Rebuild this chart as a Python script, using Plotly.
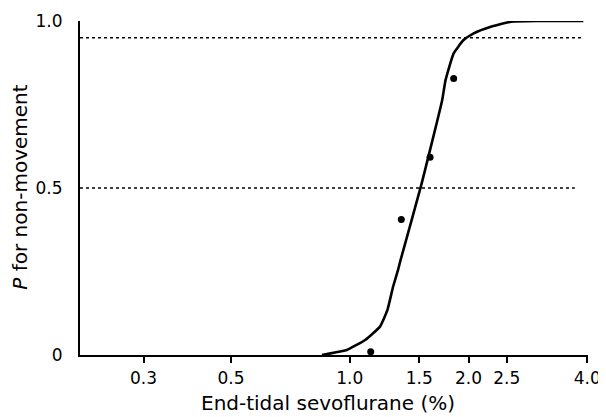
import plotly.graph_objects as go

# Fitted dose-response curve
curve_x = [0.85, 0.876, 0.983, 1.094, 1.193, 1.246, 1.288, 1.325, 1.345, 1.514,
           1.715, 1.749, 1.834, 1.943, 2.061, 2.279, 2.567, 3.0, 3.91]
curve_y = [0.0, 0.003, 0.015, 0.045, 0.085, 0.135, 0.205, 0.254, 0.284, 0.504,
           0.763, 0.823, 0.903, 0.943, 0.963, 0.983, 0.998, 1.0, 1.0]

# Observed data points
obs_x = [1.13, 1.351, 1.598, 1.834]
obs_y = [0.01, 0.406, 0.592, 0.828]

# Reference levels
ref_levels = [0.5, 0.95]
ref_extent = [0.974, 0.990]

x_ticks = [0.3, 0.5, 1.0, 1.5, 2.0, 2.5, 4.0]
x_ticktext = ["0.3", "0.5", "1.0", "1.5", "2.0", "2.5", "4.0"]
y_ticks = [0, 0.5, 1.0]
y_ticktext = ["0", "0.5", "1.0"]

FONT = "DejaVu Sans"

fig = go.Figure()
fig.add_trace(go.Scatter(x=curve_x, y=curve_y, mode="lines",
                         line=dict(color="black", width=2.6, shape="spline", smoothing=0.4),
                         cliponaxis=False, hoverinfo="skip"))
fig.add_trace(go.Scatter(x=obs_x, y=obs_y, mode="markers",
                         marker=dict(color="black", size=7),
                         cliponaxis=False))

for lvl, ext in zip(ref_levels, ref_extent):
    fig.add_shape(type="line", xref="paper", yref="y", x0=0, x1=ext, y0=lvl, y1=lvl,
                  line=dict(color="black", width=1.6, dash="dot"), layer="below")

# page body has an 8px margin, so the figure is sized to fit inside the window
fig.update_layout(
    width=598, height=409,
    margin=dict(l=72, r=18, t=13, b=62, autoexpand=False),
    paper_bgcolor="white", plot_bgcolor="white",
    showlegend=False,
    font=dict(family=FONT, size=18, color="black"),
    xaxis=dict(type="log", range=[-0.684, 0.604], automargin=False,
               tickvals=x_ticks, ticktext=x_ticktext,
               ticks="outside", ticklen=6, tickwidth=2, tickcolor="black",
               showline=True, linecolor="black", linewidth=2.2,
               showgrid=False, zeroline=False,
               tickfont=dict(family=FONT, size=17)),
    yaxis=dict(range=[0, 1], automargin=False,
               tickvals=y_ticks, ticktext=y_ticktext,
               ticks="outside", ticklen=12, tickcolor="rgba(0,0,0,0)",
               showline=True, linecolor="black", linewidth=2.2,
               showgrid=False, zeroline=False,
               tickfont=dict(family=FONT, size=17)),
    annotations=[
        dict(text="End-tidal sevoflurane (%)", xref="paper", yref="paper",
             x=0.489, y=0, yshift=-48, showarrow=False,
             xanchor="center", yanchor="middle",
             font=dict(family=FONT, size=20)),
        dict(text="<i>P</i> for non-movement", xref="paper", yref="paper",
             x=0, xshift=-60, y=0.501, showarrow=False, textangle=-90,
             xanchor="center", yanchor="middle",
             font=dict(family=FONT, size=20)),
    ],
)

fig.write_html("out.html")
